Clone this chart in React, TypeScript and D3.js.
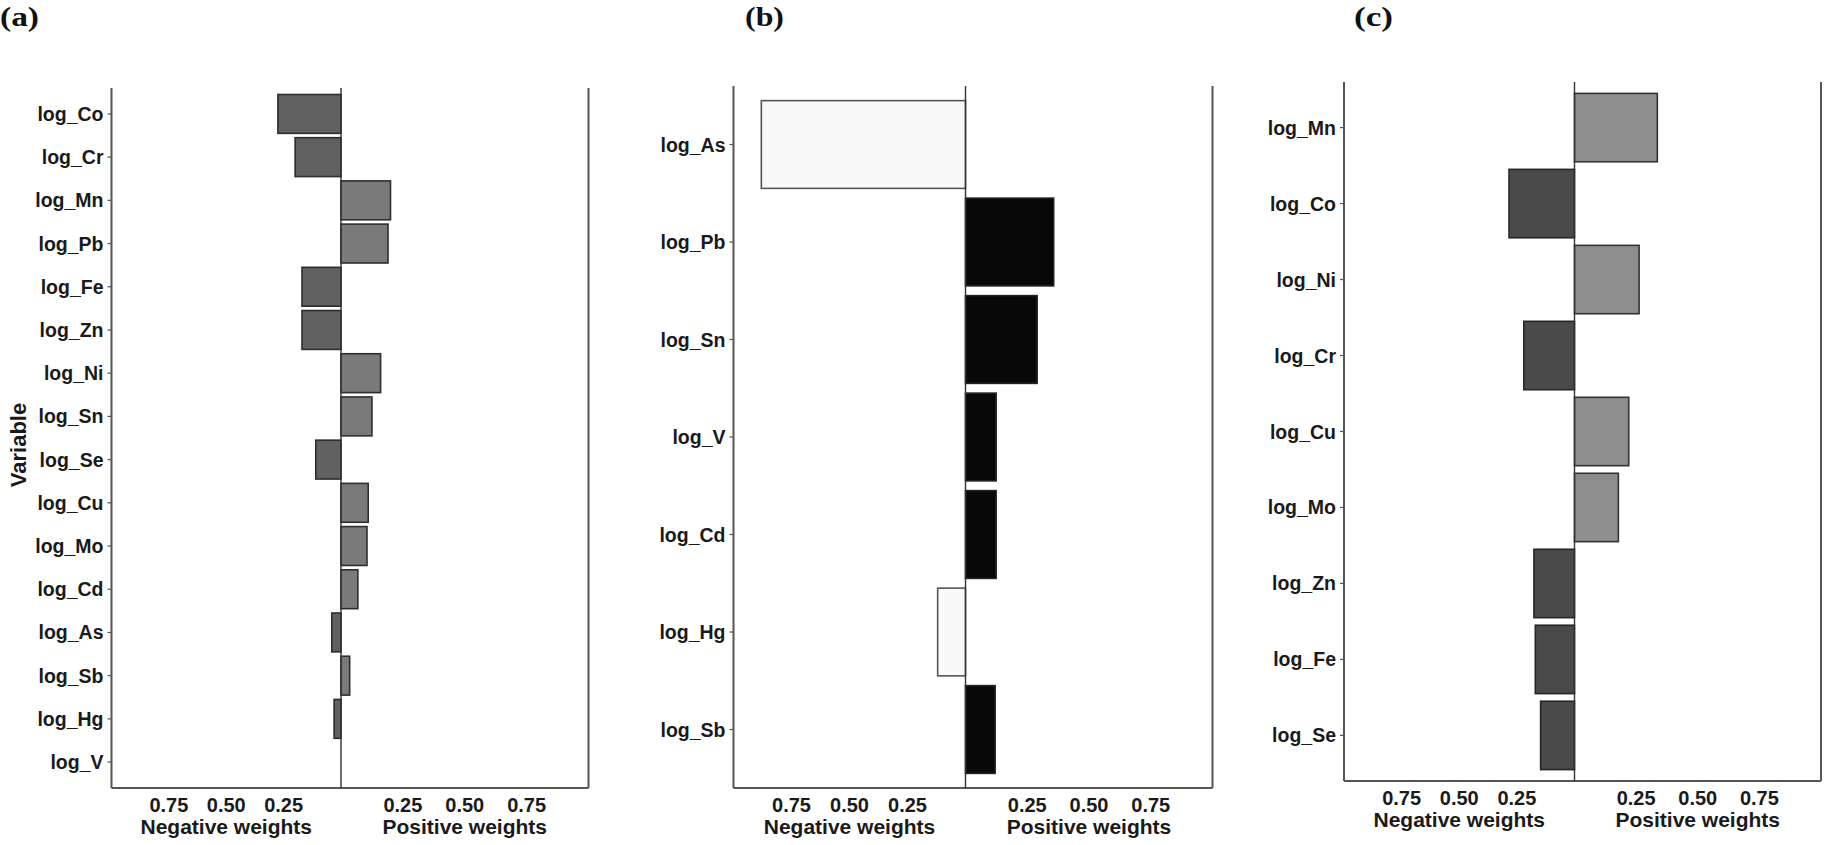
import React from "react";
import * as d3 from "d3";

// ---------- data ----------
const varsA = ["log_Co","log_Cr","log_Mn","log_Pb","log_Fe","log_Zn","log_Ni","log_Sn","log_Se","log_Cu","log_Mo","log_Cd","log_As","log_Sb","log_Hg","log_V"];
const weightsA = [-0.275,-0.2,0.2,0.19,-0.17,-0.17,0.16,0.125,-0.11,0.11,0.105,0.068,-0.04,0.035,-0.03,0];

const varsB = ["log_As","log_Pb","log_Sn","log_V","log_Cd","log_Hg","log_Sb"];
const weightsB = [-0.88,0.357,0.29,0.124,0.124,-0.12,0.12];

const varsC = ["log_Mn","log_Co","log_Ni","log_Cr","log_Cu","log_Mo","log_Zn","log_Fe","log_Se"];
const weightsC = [0.336,-0.284,0.262,-0.22,0.22,0.178,-0.176,-0.17,-0.147];

const tickValues = [0.25, 0.5, 0.75];
const tickLabels = ["0.25", "0.50", "0.75"];
const panelTitles = ["(a)", "(b)", "(c)"];

// ---------- layout ----------
const panels = [
  { vars: varsA, w: weightsA, title: panelTitles[0], titleX: 0, left: 111.5, center: 341, right: 588.5, top: 88, bottom: 788,
    negFill: "#616161", posFill: "#7a7a7a", negStroke: "#2e2e2e", posStroke: "#2e2e2e", showYTitle: true },
  { vars: varsB, w: weightsB, title: panelTitles[1], titleX: 745, left: 733.5, center: 965.5, right: 1212.5, top: 86, bottom: 788,
    negFill: "#f9f9f9", posFill: "#080808", negStroke: "#555555", posStroke: "#222222", showYTitle: false },
  { vars: varsC, w: weightsC, title: panelTitles[2], titleX: 1354, left: 1344, center: 1574.5, right: 1821, top: 82, bottom: 781,
    negFill: "#4a4a4a", posFill: "#8e8e8e", negStroke: "#262626", posStroke: "#333333", showYTitle: false },
];

const FONT = "'Liberation Sans', Arial, Helvetica, sans-serif";

function Panel({ p }: { p: any }) {
  const y = d3.scalePoint<string>().domain(p.vars).range([p.top, p.bottom]).padding(0.6);
  const bh = y.step() * 0.9;
  const xNeg = d3.scaleLinear().domain([0, 1]).range([p.center, p.left]);
  const xPos = d3.scaleLinear().domain([0, 1]).range([p.center, p.right]);
  const frame = "#555555";
  return (
    <g>
      <text x={p.titleX} y={26} fontFamily="'Liberation Serif', 'Times New Roman', serif" fontWeight="bold" fontSize={27}
        textLength={39} lengthAdjust="spacingAndGlyphs" fill="#111">{p.title}</text>
      {/* bars */}
      {p.vars.map((v: string, i: number) => {
        const val = p.w[i];
        if (val === 0) return null;
        const neg = val < 0;
        const x0 = neg ? xNeg(-val) : xPos(0);
        const x1 = neg ? xNeg(0) : xPos(val);
        return (
          <rect key={v} x={x0} y={(y(v) as number) - bh / 2} width={x1 - x0} height={bh}
            fill={neg ? p.negFill : p.posFill} stroke={neg ? p.negStroke : p.posStroke} strokeWidth={1.6} />
        );
      })}
      {/* frame */}
      <line x1={p.left} x2={p.left} y1={p.top} y2={p.bottom} stroke={frame} strokeWidth={2} />
      <line x1={p.right} x2={p.right} y1={p.top} y2={p.bottom} stroke={frame} strokeWidth={2} />
      <line x1={p.left} x2={p.right} y1={p.bottom} y2={p.bottom} stroke={frame} strokeWidth={2} />
      <line x1={p.center} x2={p.center} y1={p.top} y2={p.bottom} stroke="#333" strokeWidth={1.4} />
      {/* y axis ticks & labels */}
      {p.vars.map((v: string) => (
        <g key={"t" + v}>
          <line x1={p.left - 4} x2={p.left} y1={y(v)} y2={y(v)} stroke={frame} strokeWidth={1.2} />
          <text x={p.left - 8} y={(y(v) as number) + 7} textAnchor="end" fontFamily={FONT} fontWeight="bold" fontSize={19.5} fill="#1a1a1a">{v}</text>
        </g>
      ))}
      {/* x ticks */}
      {tickValues.map((t, i) => (
        <g key={"x" + t}>
          <text x={xNeg(t)} y={p.bottom + 24} textAnchor="middle" fontFamily={FONT} fontWeight="bold" fontSize={20} fill="#1a1a1a">{tickLabels[i]}</text>
          <text x={xPos(t)} y={p.bottom + 24} textAnchor="middle" fontFamily={FONT} fontWeight="bold" fontSize={20} fill="#1a1a1a">{tickLabels[i]}</text>
        </g>
      ))}
      <text x={xNeg(0.5)} y={p.bottom + 46} textAnchor="middle" fontFamily={FONT} fontWeight="bold" fontSize={21} fill="#1a1a1a">Negative weights</text>
      <text x={xPos(0.5)} y={p.bottom + 46} textAnchor="middle" fontFamily={FONT} fontWeight="bold" fontSize={21} fill="#1a1a1a">Positive weights</text>
      {p.showYTitle && (
        <text transform={`translate(26, ${(p.top + p.bottom) / 2 + 7}) rotate(-90)`} textAnchor="middle" fontFamily={FONT} fontWeight="bold" fontSize={22} fill="#1a1a1a">Variable</text>
      )}
    </g>
  );
}

export default function App() {
  return (
    <svg width={1827} height={845} style={{ position: "absolute", left: 0, top: 0, background: "#fff" }}>
      <rect x={0} y={0} width={1827} height={845} fill="#fff" />
      {panels.map((p, i) => <Panel key={i} p={p} />)}
    </svg>
  );
}
